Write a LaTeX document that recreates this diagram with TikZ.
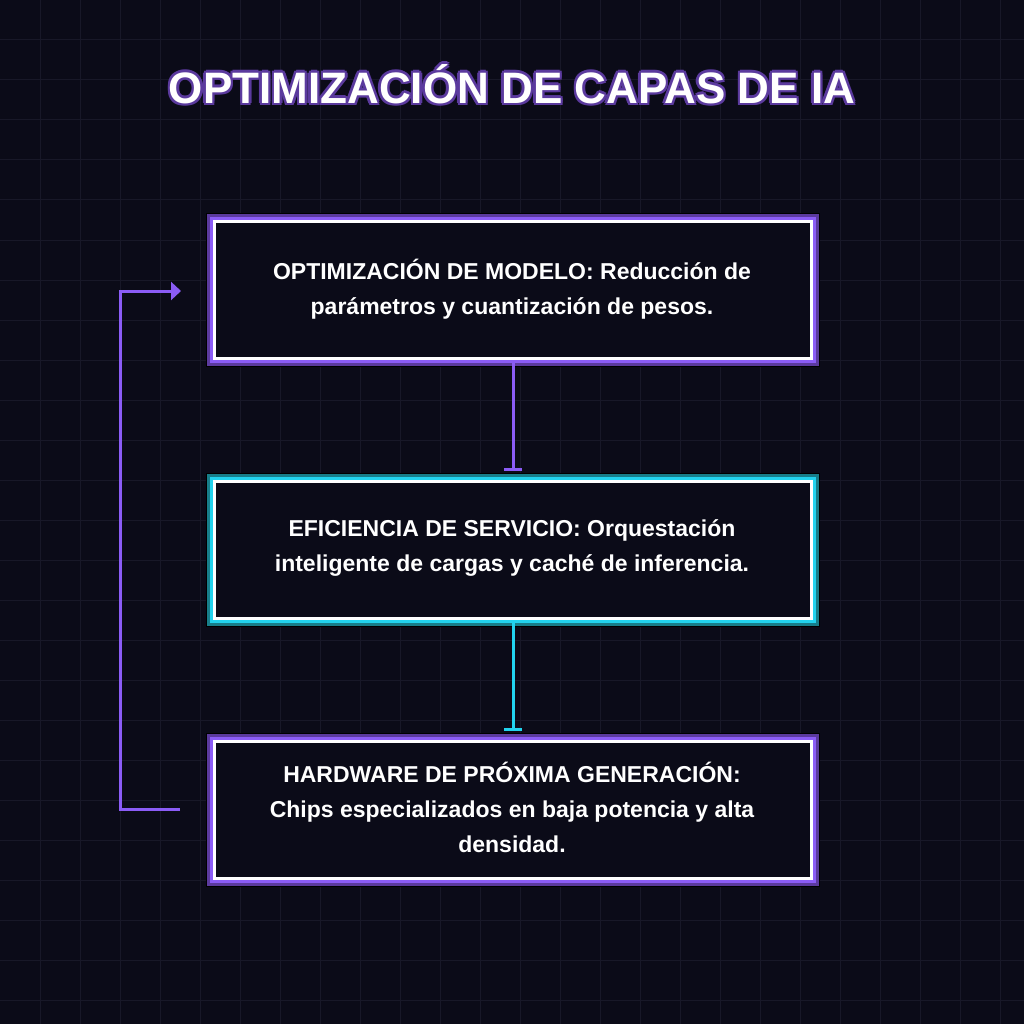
\documentclass[tikz,border=0pt]{standalone}
\usepackage{fontspec}
\setmainfont{Liberation Sans}
\usetikzlibrary{arrows.meta}
\definecolor{bg}{HTML}{0B0B18}
\definecolor{gridc}{HTML}{181828}
\definecolor{purp}{HTML}{8B5CF6}
\definecolor{purpd}{HTML}{5B3A9E}
\definecolor{cyanc}{HTML}{22D3EE}
\definecolor{cyand}{HTML}{177E8A}
\begin{document}
\begin{tikzpicture}[x=1pt,y=-1pt,
 txt/.style={text=white,font=\bfseries\fontsize{23}{35}\selectfont,align=center},
 ttl/.style={font=\bfseries\fontsize{44}{50}\selectfont},
 conn/.style={line width=3pt}]
\fill[bg] (0,0) rectangle (1024,1024);
\useasboundingbox (0,0) rectangle (1024,1024);
\foreach \i in {40,80,...,1000}{\draw[gridc,line width=1pt] (\i,0)--(\i,1024); \draw[gridc,line width=1pt] (0,\i)--(1024,\i);}
\foreach \dx/\dy in {-2.5/0,2.5/0,0/-2.5,0/2.5,-2/-2,2/2,-2/2,2/-2}
 \node[ttl,text=purpd] at (512+\dx,84+\dy) {OPTIMIZACIÓN DE CAPAS DE IA};
\node[ttl,text=white] (title) at (512,84) {OPTIMIZACIÓN DE CAPAS DE IA};
% boxes
\foreach \yt/\c/\cd in {214/purp/purpd,474/cyanc/cyand,734/purp/purpd}{
 \fill[black] (206,\yt-1) rectangle (820,\yt+153);
 \fill[\cd] (207,\yt) rectangle (819,\yt+152);
 \fill[\c] (210,\yt+3) rectangle (816,\yt+149);
 \fill[bg] (213,\yt+6) rectangle (813,\yt+146);
 \draw[white,line width=3.5pt] (214.5,\yt+7.5) rectangle (811.5,\yt+144.5);
}
\node[txt] (b1) at (512,289) {OPTIMIZACIÓN DE MODELO: Reducción de\\parámetros y cuantización de pesos.};
\node[txt] (b2) at (512,548) {EFICIENCIA DE SERVICIO: Orquestación\\inteligente de cargas y caché de inferencia.};
\node[txt] (b3) at (512,807) {HARDWARE DE PRÓXIMA GENERACIÓN:\\Chips especializados en baja potencia y alta\\densidad.};
\coordinate (a1) at (513,360); \coordinate (a2) at (513,471);
\coordinate (c1) at (513,620); \coordinate (c2) at (513,731);
\draw[purp,conn,-{Bar[width=18pt,line width=3pt]}] (a1)--(a2);
\draw[cyanc,conn,-{Bar[width=18pt,line width=3pt]}] (c1)--(c2);
\coordinate (l1) at (180,809); \coordinate (l2) at (181,291);
\draw[purp,conn,-{Triangle[length=10pt,width=18pt]}] (l1)--(120,809)--(120,291)--(l2);
\end{tikzpicture}
\end{document}
